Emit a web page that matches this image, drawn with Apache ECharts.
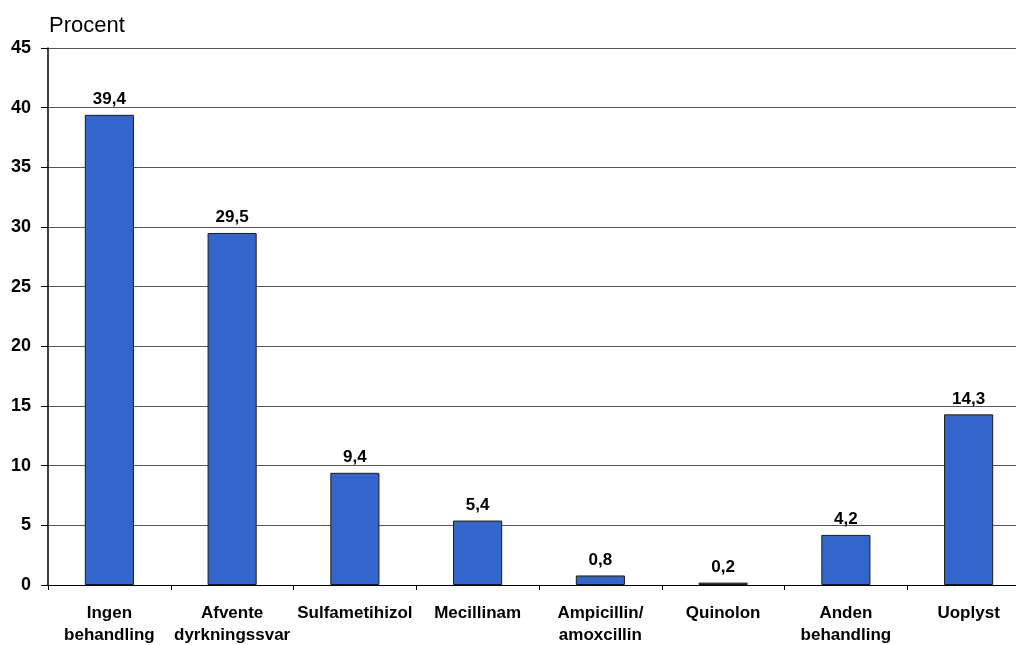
<!DOCTYPE html>
<html>
<head>
<meta charset="utf-8">
<script src="https://cdn.jsdelivr.net/npm/echarts@6/dist/echarts.min.js"></script>
<style>
  html, body { margin: 0; padding: 0; background: #fff; overflow: hidden; }
  #wrap { width: 1016px; height: 645px; overflow: hidden; }
  /* the plot runs past the right edge of the page */
  #chart { width: 1030px; height: 645px; }
</style>
</head>
<body>
<div id="wrap"><div id="chart"></div></div>
<script>
// Behandlingsvalg, andel i procent
const categories = [
  'Ingen\nbehandling',
  'Afvente\ndyrkningssvar',
  'Sulfametihizol',
  'Mecillinam',
  'Ampicillin/\namoxcillin',
  'Quinolon',
  'Anden\nbehandling',
  'Uoplyst'
];
const values = [39.4, 29.5, 9.4, 5.4, 0.8, 0.2, 4.2, 14.3];
const yTicks = [0, 5, 10, 15, 20, 25, 30, 35, 40, 45];
const yAxisTitle = 'Procent';

const font = '"Liberation Sans", Arial, sans-serif';
const chart = echarts.init(document.getElementById('chart'), null, { renderer: 'canvas' });

chart.setOption({
  animation: false,
  backgroundColor: '#ffffff',
  grid: {
    left: 48, right: 0, top: 48, bottom: 60,
    containLabel: false,
    outerBoundsMode: 'none'
  },
  graphic: [{
    type: 'text',
    left: 49,
    top: 15,
    style: { text: yAxisTitle, font: '22px ' + font, fill: '#000' }
  }],
  xAxis: {
    type: 'category',
    data: categories,
    axisLine: { show: true, lineStyle: { color: '#000', width: 1 } },
    axisTick: { show: true, length: 5, lineStyle: { color: '#000' } },
    axisLabel: {
      interval: 0,
      margin: 17,
      color: '#000',
      fontFamily: font,
      fontWeight: 'bold',
      fontSize: 17,
      lineHeight: 22
    },
    splitLine: { show: false }
  },
  yAxis: {
    type: 'value',
    min: yTicks[0],
    max: yTicks[yTicks.length - 1],
    interval: 5,
    axisLine: { show: true, lineStyle: { color: '#000', width: 1.5 } },
    axisTick: { show: true, length: 7, lineStyle: { color: '#000' } },
    axisLabel: {
      margin: 17,
      color: '#000',
      fontFamily: font,
      fontWeight: 'bold',
      fontSize: 18
    },
    splitLine: { show: true, lineStyle: { color: '#555', width: 1 } }
  },
  series: [{
    type: 'bar',
    data: values,
    barWidth: '40%',
    itemStyle: { color: '#3366cc', borderColor: '#1a1a1a', borderWidth: 1 },
    label: {
      show: true,
      position: 'top',
      distance: 7,
      color: '#000',
      fontFamily: font,
      fontWeight: 'bold',
      fontSize: 17,
      formatter: p => String(p.value).replace('.', ',')
    }
  }]
});
</script>
</body>
</html>
